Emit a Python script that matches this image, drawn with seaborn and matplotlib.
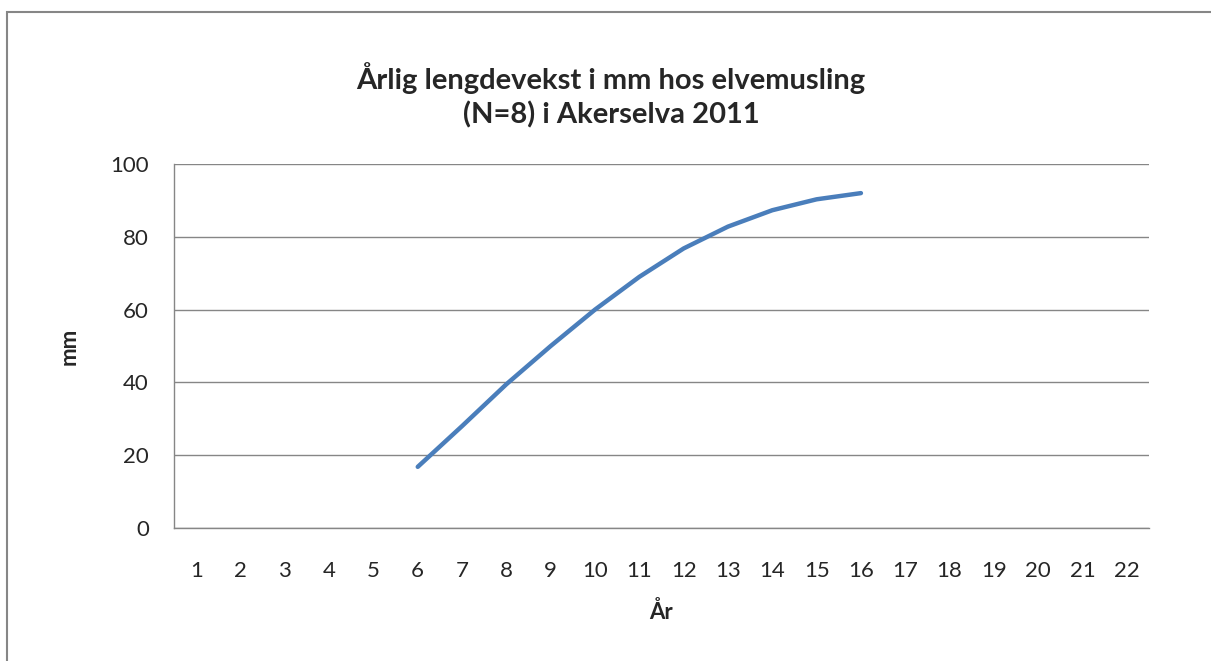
import numpy as np
import pandas as pd
import matplotlib
matplotlib.use("Agg")
import matplotlib.pyplot as plt
import seaborn as sns
from matplotlib.patches import Rectangle

# data
years = [6, 7, 8, 9, 10, 11, 12, 13, 14, 15, 16]
length_mm = [16.8, 28.0, 39.5, 50.0, 60.0, 69.0, 76.8, 82.8, 87.3, 90.3, 92.0]
categories = list(range(1, 23))
y_ticks = [0, 20, 40, 60, 80, 100]

title = "Årlig lengdevekst i mm hos elvemusling\n(N=8) i Akerselva 2011"
x_label = "År"
y_label = "mm"

sns.set_style("white")
plt.rcParams['font.family'] = ['Lato', 'DejaVu Sans']

df = pd.DataFrame({"year": years, "mm": length_mm})

fig = plt.figure(figsize=(12.11, 6.61), dpi=100)
ax = fig.add_axes([174 / 1211, 1 - 528 / 661, (1149 - 174) / 1211, (528 - 164) / 661])

grey = "#868686"
sns.lineplot(data=df, x="year", y="mm", ax=ax, color="#4a7ebb", linewidth=3.2,
             solid_capstyle="round", solid_joinstyle="round")

ax.set_xlim(0.5, len(categories) + 0.5)
ax.set_ylim(0, 100)
ax.set_yticks(y_ticks)
ax.yaxis.grid(True, color=grey, linewidth=1)
ax.set_axisbelow(True)

# category axis: ticks between categories, labels at centres
ax.set_xticks(np.arange(0.5, len(categories) + 1, 1))
ax.set_xticklabels([])
ax.set_xticks(categories, minor=True)
ax.set_xticklabels([str(c) for c in categories], minor=True, fontsize=16)
ax.tick_params(axis="x", which="major", direction="out", length=7, color=grey, width=1)
ax.tick_params(axis="x", which="minor", length=0, pad=24)
ax.tick_params(axis="y", direction="out", length=6, color=grey, width=1, labelsize=16, pad=12)

for s in ["top", "right"]:
    ax.spines[s].set_visible(False)
for s in ["left", "bottom"]:
    ax.spines[s].set_color(grey)
    ax.spines[s].set_linewidth(1)

ax.set_xlabel(x_label, fontsize=16, fontweight="bold", labelpad=14)
ax.set_ylabel(y_label, fontsize=16, fontweight="bold", labelpad=22)
fig.text(611 / 1211, 1 - 95 / 661, title, ha="center", va="center",
         fontsize=21, fontweight="bold", linespacing=1.35)

# outer chart frame
fig.patches.append(Rectangle((7 / 1211, -0.1), 1.2, 1 - 12 / 661 + 0.1,
                             transform=fig.transFigure, fill=False,
                             edgecolor=grey, linewidth=1.5))

fig.savefig("out.png", dpi=100)
